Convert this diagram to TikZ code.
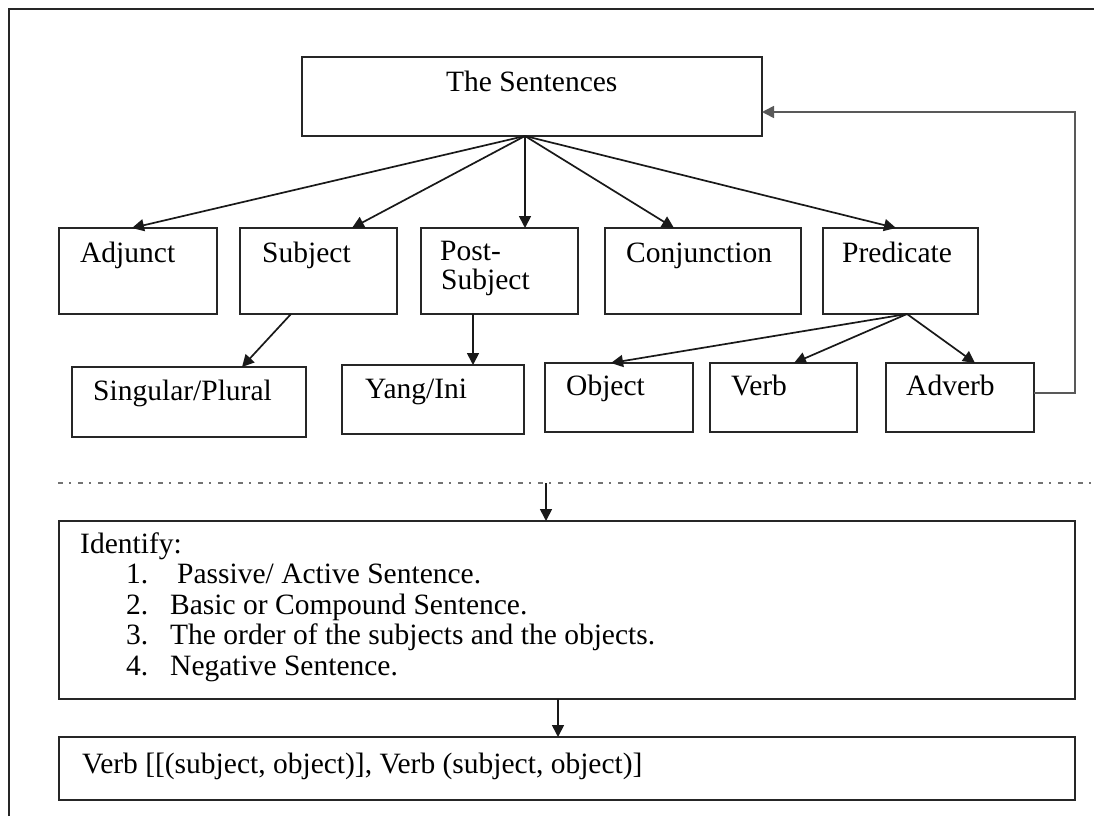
\documentclass[tikz,border=0pt]{standalone}
\usepackage{fontspec}
\setmainfont{Liberation Serif}
\usetikzlibrary{arrows.meta,calc}
\begin{document}
\begin{tikzpicture}[x=1pt,y=-1pt,
  box/.style={draw=black!85, line width=1.7pt, inner sep=0pt, outer sep=0pt, anchor=north west},
  lbl/.style={inner sep=0pt, anchor=base west, font=\fontsize{29.5}{34}\selectfont},
  link/.style={draw=black!90, line width=1.7pt, -{Triangle[length=12pt,width=12pt]}},
  plain/.style={line width=1.7pt}]
\useasboundingbox (0,0) rectangle (1094,816);
\fill[white] (0,0) rectangle (1094,816);

% outer frame
\draw[line width=1.5pt, black!85] (9,816) -- (9,9) -- (1094,9);

% boxes
\node[box, minimum width=460pt, minimum height=79pt] (sent) at (302,57) {};
\node[box, minimum width=158pt, minimum height=86pt] (adj)  at (59,228) {};
\node[box, minimum width=157pt, minimum height=86pt] (subj) at (240,228) {};
\node[box, minimum width=157pt, minimum height=86pt] (post) at (421,228) {};
\node[box, minimum width=196pt, minimum height=86pt] (conj) at (605,228) {};
\node[box, minimum width=155pt, minimum height=86pt] (pred) at (823,228) {};
\node[box, minimum width=234pt, minimum height=70pt] (sing) at (72,367) {};
\node[box, minimum width=182pt, minimum height=69pt] (yang) at (342,365) {};
\node[box, minimum width=148pt, minimum height=69pt] (obj)  at (545,363) {};
\node[box, minimum width=147pt, minimum height=69pt] (verb) at (710,363) {};
\node[box, minimum width=148pt, minimum height=69pt] (adv)  at (886,363) {};
\node[box, minimum width=1016pt, minimum height=178pt] (ident) at (59,521) {};
\node[box, minimum width=1016pt, minimum height=63pt] (form) at (59,737) {};

% labels
\node[lbl] (sent-t) at (446,91) {The Sentences};
\node[lbl] (adj-t)  at (80,262) {Adjunct};
\node[lbl] (subj-t) at (262,262) {Subject};
\node[lbl] (post-t1) at (440,260) {Post-};
\node[lbl] (post-t2) at (441,289) {Subject};
\node[lbl] (conj-t) at (626,262) {Conjunction};
\node[lbl] (pred-t) at (842,262) {Predicate};
\node[lbl] (sing-t) at (93,400) {Singular/Plural};
\node[lbl] (yang-t) at (365,398) {Yang/Ini};
\node[lbl] (obj-t)  at (566,395) {Object};
\node[lbl] (verb-t) at (731,395) {Verb};
\node[lbl] (adv-t)  at (906,395) {Adverb};
\node[lbl] (id-t)   at (80,553) {Identify:};
\node[lbl] (n1) at (126,583) {1.};
\node[lbl] (i1) at (177,583) {Passive/ Active Sentence.};
\node[lbl] (n2) at (126,614) {2.};
\node[lbl] (i2) at (170,614) {Basic or Compound Sentence.};
\node[lbl] (n3) at (126,644) {3.};
\node[lbl] (i3) at (170,644) {The order of the subjects and the objects.};
\node[lbl] (n4) at (126,675) {4.};
\node[lbl] (i4) at (170,675) {Negative Sentence.};
\node[lbl] (form-t) at (82,773) {Verb [[(subject, object)], Verb (subject, object)]};

% branching from the sentence box
\coordinate (fan) at ([xshift=-7pt]sent.south);
\draw[link] (fan) -- ([xshift=73pt]adj.north west);
\draw[link] (fan) -- ([xshift=112pt]subj.north west);
\draw[link] (fan) -- ([xshift=104pt]post.north west);
\draw[link] (fan) -- ([xshift=69pt]conj.north west);
\draw[link] (fan) -- ([xshift=73pt]pred.north west);

% second level
\draw[link] ([xshift=51pt]subj.south west) -- ([xshift=170pt]sing.north west);
\draw[link] ([xshift=52pt]post.south west) -- ([xshift=131pt]yang.north west);
\coordinate (pfan) at ([xshift=84pt]pred.south west);
\draw[link] (pfan) -- ([xshift=66pt]obj.north west);
\draw[link] (pfan) -- ([xshift=84pt]verb.north west);
\draw[link] (pfan) -- ([xshift=89pt]adv.north west);

% feedback loop from Adverb back to the sentence box
\coordinate (loop) at (1075,0);
\draw[link, draw=black!65] ([yshift=4.5pt]adv.east) -- ([yshift=4.5pt]adv.east -| loop)
  |- ([yshift=-15.5pt]sent.east);

% separator
\coordinate (sepL) at (58,483);
\coordinate (sepR) at (1094,483);
\draw[line width=1.6pt, black!55, dash pattern=on 5pt off 6pt on 1.5pt off 7.5pt] (sepL) -- (sepR);
\coordinate (split) at (546,483);
\draw[link] (split) -- (split |- ident.north);
\draw[link] ([xshift=499pt]ident.south west) -- ([xshift=499pt]form.north west);
\end{tikzpicture}
\end{document}
